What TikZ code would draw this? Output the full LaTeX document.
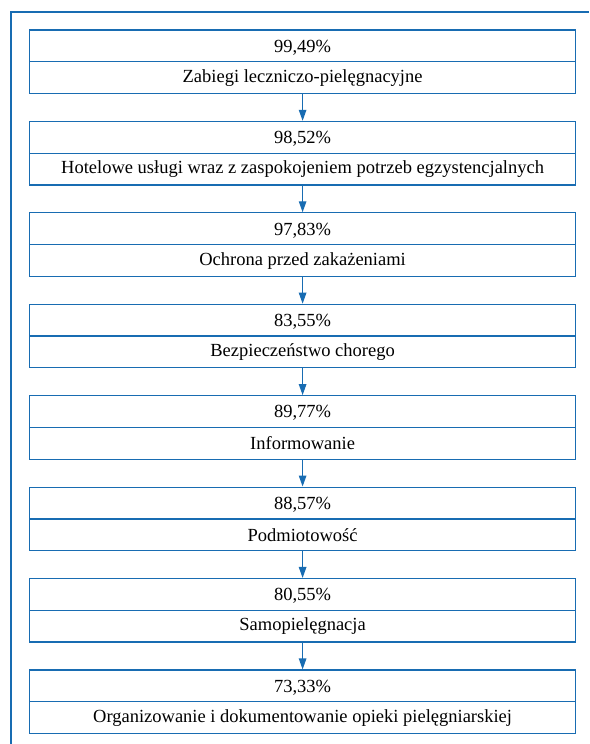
\documentclass[tikz,border=0pt]{standalone}
\usepackage{fontspec}
\setmainfont{Liberation Serif}
\usetikzlibrary{arrows.meta}
\definecolor{frameblue}{RGB}{24,108,178}
\begin{document}
\begin{tikzpicture}[x=1pt,y=1pt,
  boxnode/.style={draw=frameblue,line width=1.2pt,minimum width=546pt,minimum height=63.5pt,inner sep=0pt},
  txt/.style={font=\fontsize{18.5}{21}\selectfont,inner sep=0pt,anchor=center},
  conn/.style={draw=frameblue,line width=1.2pt,-{Triangle[width=7.5pt,length=11pt]}}]
\useasboundingbox (0,0) rectangle (589,-744);
\draw[frameblue,line width=1.4pt] (11,-744) -- (11,-12) -- (589,-12);
\foreach \i/\p/\t in {1/{99,49\%}/{Zabiegi leczniczo-pielęgnacyjne},
  2/{98,52\%}/{Hotelowe usługi wraz z zaspokojeniem potrzeb egzystencjalnych},
  3/{97,83\%}/{Ochrona przed zakażeniami},
  4/{83,55\%}/{Bezpieczeństwo chorego},
  5/{89,77\%}/{Informowanie},
  6/{88,57\%}/{Podmiotowość},
  7/{80,55\%}/{Samopielęgnacja},
  8/{73,33\%}/{Organizowanie i dokumentowanie opieki pielęgniarskiej}}{
  \node[boxnode] (b\i) at (302.6,{-61.75-(\i-1)*91.43}) {};
  \draw[frameblue,line width=1.2pt] (b\i.west) -- (b\i.east);
  \node[txt] (p\i) at ([yshift=14.3pt]b\i.center) {\p};
  \node[txt] (t\i) at ([yshift=-16pt]b\i.center) {\t};
}
\foreach \i [evaluate=\i as \j using int(\i+1)] in {1,...,7}{
  \draw[conn] (b\i.south) -- (b\j.north);
}
\end{tikzpicture}
\end{document}
